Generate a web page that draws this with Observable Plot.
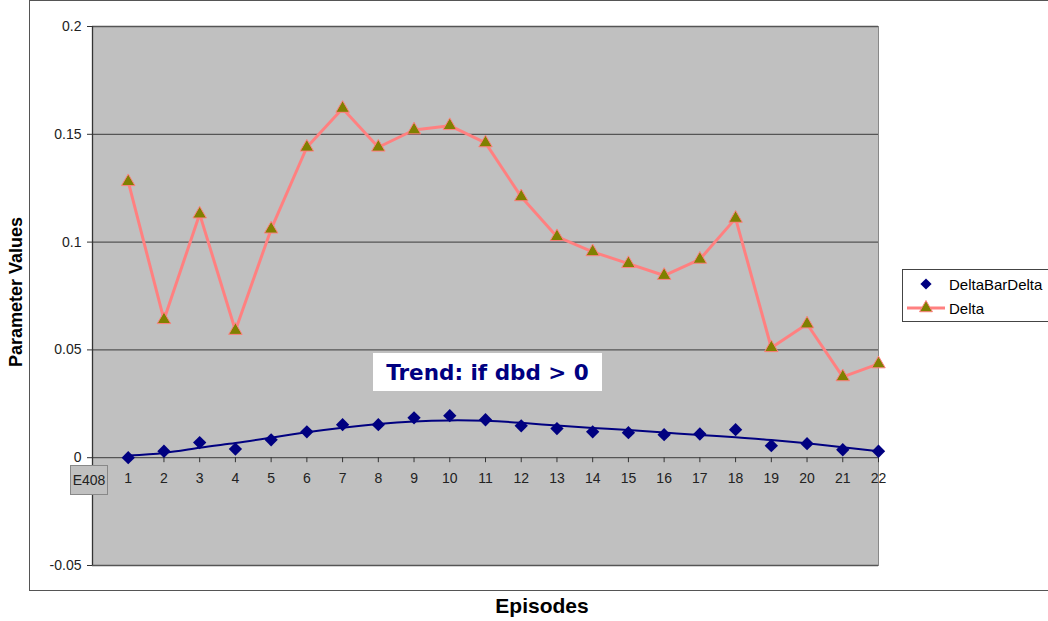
<!DOCTYPE html>
<html>
<head>
<meta charset="utf-8">
<script src="https://cdn.jsdelivr.net/npm/d3@7"></script>
<script src="https://cdn.jsdelivr.net/npm/@observablehq/plot@0.6"></script>
<style>
  html, body { margin: 0; padding: 0; background: #fff; }
  #wrap { position: relative; width: 1048px; height: 621px; font-family: "Liberation Sans", Arial, sans-serif; overflow: hidden; }
  #border { position: absolute; left: 29px; top: 0px; width: 1100px; height: 591px; border: 1px solid #555; box-sizing: border-box; }
  .abs { position: absolute; }
  #ytitle { left: 16px; top: 292px; transform: translate(-50%, -50%) rotate(-90deg); font-weight: bold; font-size: 18px; white-space: nowrap; color: #000; }
  #xtitle { left: 542px; top: 606px; transform: translate(-50%, -50%); font-weight: bold; font-size: 21px; color: #000; }
  #trend { left: 373px; top: 353px; width: 229px; height: 38px; background: #fff; color: #000080; font-family: "DejaVu Sans", "Liberation Sans", sans-serif; font-weight: bold; font-size: 21.5px; display: flex; align-items: center; justify-content: center; white-space: nowrap; }
  #e408 { left: 70px; top: 465px; width: 38px; height: 30px; background: #c0c0c0; border: 1px solid #888; box-sizing: border-box; font-size: 14px; color: #222; display: flex; align-items: center; justify-content: center; }
  #legend { left: 902px; top: 269px; width: 160px; height: 53px; border: 1px solid #444; background: #fff; box-sizing: border-box; font-size: 15px; color: #000; }
  .item { position: absolute; left: 0; display: flex; align-items: center; }
  svg.plot { position: absolute; left: 0; top: 0; }
</style>
</head>
<body>
<div id="wrap">
  <div id="border"></div>
  <div id="chart"></div>
  <div class="abs" id="ytitle">Parameter Values</div>
  <div class="abs" id="xtitle">Episodes</div>
  <div class="abs" id="trend">Trend: if dbd &gt; 0</div>
  <div class="abs" id="e408">E408</div>
  <div class="abs" id="legend"></div>
</div>
<script>
// ---- data ----
const startLabel = "E408";
const episodes = [1, 2, 3, 4, 5, 6, 7, 8, 9, 10, 11, 12, 13, 14, 15, 16, 17, 18, 19, 20, 21, 22];
const deltaValues = [0.128, 0.064, 0.113, 0.059, 0.106, 0.144, 0.162, 0.144, 0.152, 0.154, 0.146, 0.121,
                     0.1025, 0.0955, 0.090, 0.0845, 0.092, 0.111, 0.051, 0.062, 0.0375, 0.0435];
const deltaBarDeltaValues = [0.0, 0.003, 0.007, 0.004, 0.0083, 0.012, 0.0153, 0.0153, 0.0185, 0.0195, 0.0176, 0.0148,
                             0.0135, 0.012, 0.0116, 0.0107, 0.011, 0.013, 0.0056, 0.0065, 0.0037, 0.003];
const trendValues = [0.001, 0.0022, 0.0046, 0.0068, 0.0093, 0.0118, 0.0139, 0.0156, 0.0168, 0.0173, 0.0171, 0.0162,
                     0.0149, 0.0138, 0.0128, 0.0117, 0.0105, 0.0095, 0.0082, 0.0067, 0.0049, 0.003];
const yTicks = [-0.05, 0, 0.05, 0.1, 0.15, 0.2];
const seriesNames = ["DeltaBarDelta", "Delta"];

const delta = episodes.map((e, i) => ({episode: e, value: deltaValues[i]}));
const dbd = episodes.map((e, i) => ({episode: e, value: deltaBarDeltaValues[i]}));
const trend = episodes.map((e, i) => ({episode: e, value: trendValues[i]}));

const W = 1048, H = 621, mL = 92, mR = 170, mT = 26, mB = 56;
const yDomain = [-0.05, 0.2];
const yS = d3.scaleLinear(yDomain, [H - mB, mT]);
const xAxisDy = yS(0) - (H - mB);

const chart = Plot.plot({
  width: W, height: H,
  marginLeft: mL, marginRight: mR, marginTop: mT, marginBottom: mB,
  style: {fontFamily: "'Liberation Sans', Arial, sans-serif", fontSize: "14px", color: "#222", background: "transparent", overflow: "visible"},
  x: {domain: [0, 22], label: null},
  y: {domain: yDomain, label: null},
  marks: [
    Plot.frame({fill: "#c0c0c0", stroke: "#888"}),
    Plot.ruleY(yTicks, {stroke: "#555", strokeWidth: 1.3}),
    Plot.ruleX([0], {stroke: "#333", strokeWidth: 1.3}),
    Plot.axisY({ticks: yTicks, tickSize: 5, tickPadding: 6, stroke: "#333", tickFormat: d => String(+d.toFixed(2)), label: null}),
    Plot.axisX({ticks: episodes, tickSize: 5, tickPadding: 10, dy: xAxisDy, stroke: "#333", tickFormat: d => String(d), label: null}),
    Plot.line(delta, {x: "episode", y: "value", stroke: "#ff8080", strokeWidth: 3}),
    Plot.dot(delta, {x: "episode", y: "value", symbol: "triangle", r: 5, fill: "#808000", stroke: "#ff8080", strokeWidth: 1}),
    Plot.line(trend, {x: "episode", y: "value", stroke: "#000080", strokeWidth: 2, curve: "natural"}),
    Plot.dot(dbd, {x: "episode", y: "value", symbol: "diamond2", r: 6, fill: "#000080", stroke: "none"})
  ]
});
document.getElementById("chart").appendChild(chart);

// legend
const legend = document.getElementById("legend");
legend.innerHTML = `
  <div class="item" style="top:4px;">
    <svg width="44" height="20"><path d="${d3.symbol(d3.symbolDiamond2, 80)()}" transform="translate(23,10)" fill="#000080"/></svg>
    <span style="margin-left:2px">${seriesNames[0]}</span>
  </div>
  <div class="item" style="top:28px;">
    <svg width="44" height="20"><line x1="4" x2="42" y1="10" y2="10" stroke="#ff8080" stroke-width="3"/>
      <path d="${d3.symbol(d3.symbolTriangle, 72)()}" transform="translate(23,10)" fill="#808000" stroke="#ff8080"/></svg>
    <span style="margin-left:2px">${seriesNames[1]}</span>
  </div>`;
document.getElementById("e408").textContent = startLabel;
</script>
</body>
</html>
